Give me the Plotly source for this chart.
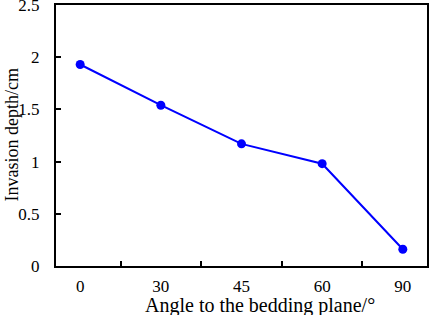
import plotly.graph_objects as go

angles = ["0", "30", "45", "60", "90"]
depth = [1.93, 1.54, 1.17, 0.98, 0.16]
y_ticks = [0, 0.5, 1, 1.5, 2, 2.5]
y_labels = ["0", "0.5", "1", "1.5", "2", "2.5"]
x_title = "Angle to the bedding plane/°"
y_title = "Invasion depth/cm"

fig = go.Figure(go.Scatter(
    x=angles, y=depth, mode="lines+markers",
    line=dict(color="#0000FF", width=2),
    marker=dict(color="#0000FF", size=9),
))

font = "Liberation Serif, Times New Roman, serif"
fig.update_layout(
    width=429, height=315,
    margin=dict(l=56, r=2, t=5, b=49),
    paper_bgcolor="white", plot_bgcolor="white",
    showlegend=False,
    font=dict(family=font, size=17, color="black"),
)
fig.update_xaxes(
    type="category", tickson="boundaries", ticks="inside", ticklen=5,
    tickwidth=1.5, tickcolor="black",
    showline=True, linecolor="black", linewidth=2, mirror=True,
    showgrid=False, zeroline=False, automargin=False,
    ticklabelstandoff=4,
    tickfont=dict(size=17),
)
fig.update_yaxes(
    range=[0, 2.5], tickvals=y_ticks, ticktext=y_labels,
    ticks="inside", ticklen=5, tickwidth=1.5, tickcolor="black",
    showline=True, linecolor="black", linewidth=2, mirror=True,
    showgrid=False, zeroline=False, automargin=False,
    ticklabelstandoff=11, ticklabeloverflow="allow",
    tickfont=dict(size=17),
)
fig.add_annotation(
    text=x_title, xref="paper", yref="paper", x=0.551, y=0,
    xanchor="center", yanchor="middle", yshift=-39,
    showarrow=False, font=dict(size=20),
)
fig.add_annotation(
    text=y_title, xref="paper", yref="paper", x=0, y=0.5,
    xanchor="center", yanchor="middle", xshift=-45, textangle=-90,
    showarrow=False, font=dict(size=18),
)
fig.write_html(
    "out.html",
    config={"responsive": False, "displayModeBar": False},
    default_width="429px", default_height="315px",
    post_script="document.body.style.margin='0';document.body.style.overflow='hidden';",
)
